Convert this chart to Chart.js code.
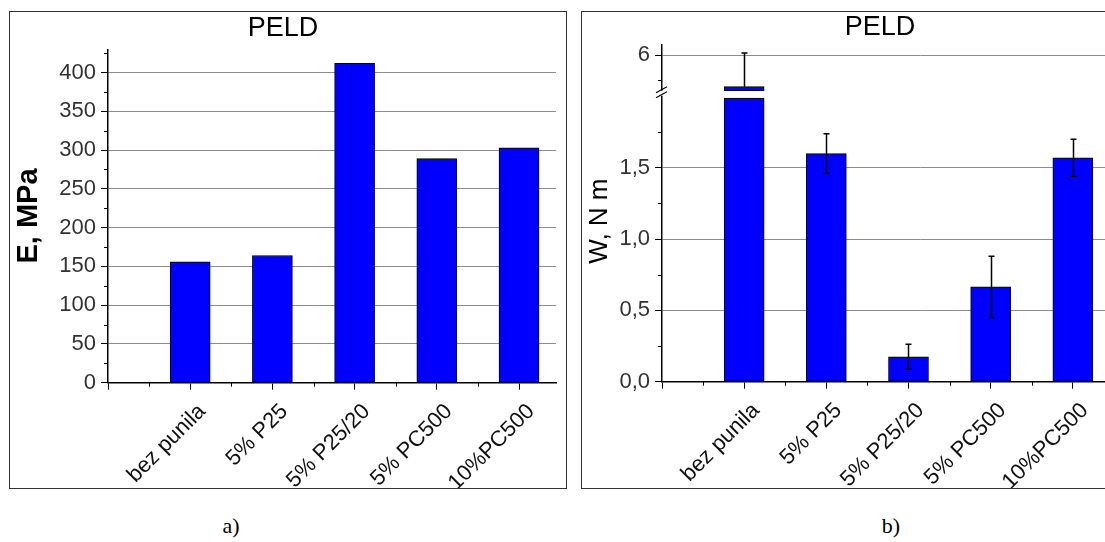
<!DOCTYPE html>
<html>
<head>
<meta charset="utf-8">
<script src="https://cdn.jsdelivr.net/npm/chart.js@4.4.1/dist/chart.umd.min.js"></script>
<style>
  html, body { margin: 0; padding: 0; background: #fff; width: 1105px; height: 542px; overflow: hidden; position: relative; }
  .frame { position: absolute; top: 11px; height: 478px; border: 1px solid #333; box-sizing: border-box; background: #fff; }
  #frameA { left: 9px; width: 558px; }
  #frameB { left: 581px; width: 608px; }
  .frame canvas { display: block; }
  .cap { position: absolute; top: 513px; font: 22px "Liberation Serif", "Times New Roman", serif; transform: translateX(-50%); color: #000; }
</style>
</head>
<body>
<div class="frame" id="frameA"><canvas id="chartA" width="556" height="476"></canvas></div>
<div class="frame" id="frameB"><canvas id="chartB" width="606" height="476"></canvas></div>
<div class="cap" style="left:231px">a)</div>
<div class="cap" style="left:891px">b)</div>
<script>
const categories = ["bez punila", "5% P25", "5% P25/20", "5% PC500", "10%PC500"];
const modulusE = [156, 164, 412, 289, 303];
const workW = [5.37, 1.60, 0.175, 0.665, 1.57];
const workWErr = [0.67, 0.14, 0.087, 0.215, 0.13];

const ticksE = [0, 50, 100, 150, 200, 250, 300, 350, 400];
const minorE = [25, 75, 125, 175, 225, 275, 325, 375, 425];
const ticksWLow = [0, 0.5, 1.0, 1.5];
const minorWLow = [0.25, 0.75, 1.25, 1.75];
const ticksWHigh = [6];
const minorWHigh = [5.5];
const ticksX = [1, 2, 3, 4, 5];
const minorX = [0, 0.5, 1.5, 2.5, 3.5, 4.5];

// axis break of panel b)
const W_LOW_MAX = 2.02;
const W_HIGH_MIN = 5.23;
const W_HIGH_MAX = 6.21;
const BREAK_BAR_LOW = 1.99;
const BREAK_BAR_HIGH = 5.29;

const FONT = "'Liberation Sans', Arial, sans-serif";
const BLUE = "#0000ff";

function sorted(a, b) {
  return a.concat(b).sort((p, q) => p - q).map((v) => ({ value: v }));
}

const tickVal = (c) => (c.tick ? c.tick.value : NaN);

function xAxis(max, height) {
  return {
    type: "linear",
    min: 0,
    max: max,
    offset: false,
    afterBuildTicks: (s) => { s.ticks = sorted(ticksX, minorX); },
    afterFit: (s) => { s.height = height; },
    grid: {
      offset: false,
      drawOnChartArea: false,
      tickLength: 7,
      tickColor: (c) => (ticksX.includes(tickVal(c)) || tickVal(c) === 0 ? "#000" : "transparent"),
    },
    border: { color: "#000", width: 1.5 },
    ticks: {
      autoSkip: false,
      minRotation: 45,
      maxRotation: 45,
      padding: 9,
      labelOffset: 12,
      color: "#111",
      font: { size: 22, family: FONT },
      callback: (v) => (ticksX.includes(v) ? categories[v - 1] : ""),
    },
  };
}

function yAxis(major, minor, min, max, width, fmt) {
  return {
    type: "linear",
    position: "left",
    min: min,
    max: max,
    afterBuildTicks: (s) => { s.ticks = sorted(major, minor); },
    afterFit: (s) => { s.width = width; },
    grid: {
      color: (c) => (major.includes(tickVal(c)) && tickVal(c) > 0 ? "#8c8c8c" : "transparent"),
      tickColor: (c) => (major.includes(tickVal(c)) ? "#000" : "transparent"),
      tickLength: 7,
      lineWidth: 1,
    },
    border: { color: "#000", width: 1.5 },
    ticks: {
      autoSkip: false,
      padding: 5,
      color: "#333",
      font: { size: 22, family: FONT },
      callback: (v) => (major.includes(v) ? fmt(v) : ""),
    },
  };
}

// short minor tick marks
function minorTicks(map) {
  return {
    id: "minorTicks",
    afterDraw(chart) {
      const ctx = chart.ctx;
      ctx.save();
      ctx.strokeStyle = "#000";
      ctx.lineWidth = 1;
      Object.keys(map).forEach((id) => {
        const s = chart.scales[id];
        map[id].forEach((v) => {
          const p = Math.round(s.getPixelForValue(v)) + 0.5;
          ctx.beginPath();
          if (s.isHorizontal()) {
            ctx.moveTo(p, s.top);
            ctx.lineTo(p, s.top + 4);
          } else {
            ctx.moveTo(s.right - 4, p);
            ctx.lineTo(s.right, p);
          }
          ctx.stroke();
        });
      });
      ctx.restore();
    },
  };
}

const titleOpts = (padTop, padBottom) => ({
  display: true,
  text: "PELD",
  color: "#000",
  font: { size: 27, family: FONT, weight: "normal", lineHeight: 1 },
  padding: { top: padTop, bottom: padBottom },
});

// a) modulus
new Chart(document.getElementById("chartA").getContext("2d"), {
  type: "bar",
  data: {
    datasets: [
      {
        data: modulusE.map((v, i) => ({ x: ticksX[i], y: v })),
        backgroundColor: BLUE,
        borderColor: "#000",
        borderWidth: 1,
        borderSkipped: false,
        barThickness: 40,
      },
    ],
  },
  options: {
    responsive: false,
    animation: false,
    layout: { padding: { left: 0, right: 10, top: 0, bottom: 0 } },
    plugins: {
      legend: { display: false },
      tooltip: { enabled: false },
      title: titleOpts(3, 7.3),
    },
    scales: {
      x: xAxis(5.45, 105.3),
      y: Object.assign(yAxis(ticksE, minorE, 0, 430, 98, (v) => String(v)), {
        title: {
          display: true,
          text: "E, MPa",
          color: "#000",
          font: { size: 29, family: FONT, weight: "bold" },
          padding: { top: 2 },
        },
      }),
    },
  },
  plugins: [minorTicks({ x: minorX.filter((v) => v > 0), y: minorE })],
});

// b) work with broken axis
const comma = (v) => v.toFixed(1).replace(".", ",");

const errorBars = {
  id: "errorBars",
  afterDatasetsDraw(chart) {
    const ctx = chart.ctx;
    const xs = chart.scales.x;
    ctx.save();
    ctx.strokeStyle = "#000";
    ctx.lineWidth = 1.5;
    workW.forEach((v, i) => {
      const s = v > BREAK_BAR_LOW ? chart.scales.y2 : chart.scales.y;
      const x = Math.round(xs.getPixelForValue(ticksX[i])) + 0.5;
      const lo = v - workWErr[i] >= s.min ? v - workWErr[i] : v;
      const yTop = s.getPixelForValue(v + workWErr[i]);
      const yBot = s.getPixelForValue(lo);
      ctx.beginPath();
      ctx.moveTo(x, yTop);
      ctx.lineTo(x, yBot);
      ctx.moveTo(x - 3, yTop);
      ctx.lineTo(x + 3, yTop);
      if (lo !== v) {
        ctx.moveTo(x - 3, yBot);
        ctx.lineTo(x + 3, yBot);
      }
      ctx.stroke();
    });
    ctx.restore();
  },
};

// "//" on the y axis plus the axis title of the broken axis
const breakMarks = {
  id: "breakMarks",
  afterDraw(chart) {
    const ctx = chart.ctx;
    const s = chart.scales.y;
    const x = s.right;
    const y = s.top;
    ctx.save();
    ctx.fillStyle = "#fff";
    ctx.fillRect(x - 3, y - 3, 6, 5);
    ctx.strokeStyle = "#000";
    ctx.lineWidth = 1.2;
    ctx.beginPath();
    ctx.moveTo(x - 6, y - 1);
    ctx.lineTo(x + 5, y - 7);
    ctx.moveTo(x - 6, y + 4);
    ctx.lineTo(x + 5, y - 2);
    ctx.stroke();

    const area = chart.chartArea;
    ctx.translate(s.left + 18, (area.top + area.bottom) / 2 + 8);
    ctx.rotate(-Math.PI / 2);
    ctx.fillStyle = "#000";
    ctx.font = "26px " + FONT;
    ctx.textAlign = "center";
    ctx.textBaseline = "middle";
    ctx.fillText("W, N m", 0, 0);
    ctx.restore();
  },
};

const barStyle = {
  backgroundColor: BLUE,
  borderColor: "#000",
  borderWidth: 1,
  borderSkipped: false,
  barThickness: 40,
  grouped: false,
};

new Chart(document.getElementById("chartB").getContext("2d"), {
  type: "bar",
  data: {
    datasets: [
      Object.assign({
        yAxisID: "y",
        data: workW.map((v, i) => ({ x: ticksX[i], y: [0, Math.min(v, BREAK_BAR_LOW)] })),
      }, barStyle),
      Object.assign({
        yAxisID: "y2",
        data: workW
          .map((v, i) => (v > BREAK_BAR_LOW ? { x: ticksX[i], y: [BREAK_BAR_HIGH, v] } : null))
          .filter((d) => d !== null),
      }, barStyle),
    ],
  },
  options: {
    responsive: false,
    animation: false,
    layout: { padding: { left: 0, right: 10, top: 0, bottom: 0 } },
    plugins: {
      legend: { display: false },
      tooltip: { enabled: false },
      title: titleOpts(2, 3.5),
    },
    scales: {
      x: xAxis(6.28, 106.3),
      y: Object.assign(yAxis(ticksWLow, minorWLow, 0, W_LOW_MAX, 80, comma), {
        stack: "w",
        stackWeight: 288.4,
      }),
      y2: Object.assign(yAxis(ticksWHigh, minorWHigh, W_HIGH_MIN, W_HIGH_MAX, 80, (v) => String(v)), {
        stack: "w",
        stackWeight: 49.3,
      }),
    },
  },
  plugins: [errorBars, breakMarks, minorTicks({ x: minorX.filter((v) => v > 0), y: minorWLow, y2: minorWHigh })],
});
</script>
</body>
</html>
